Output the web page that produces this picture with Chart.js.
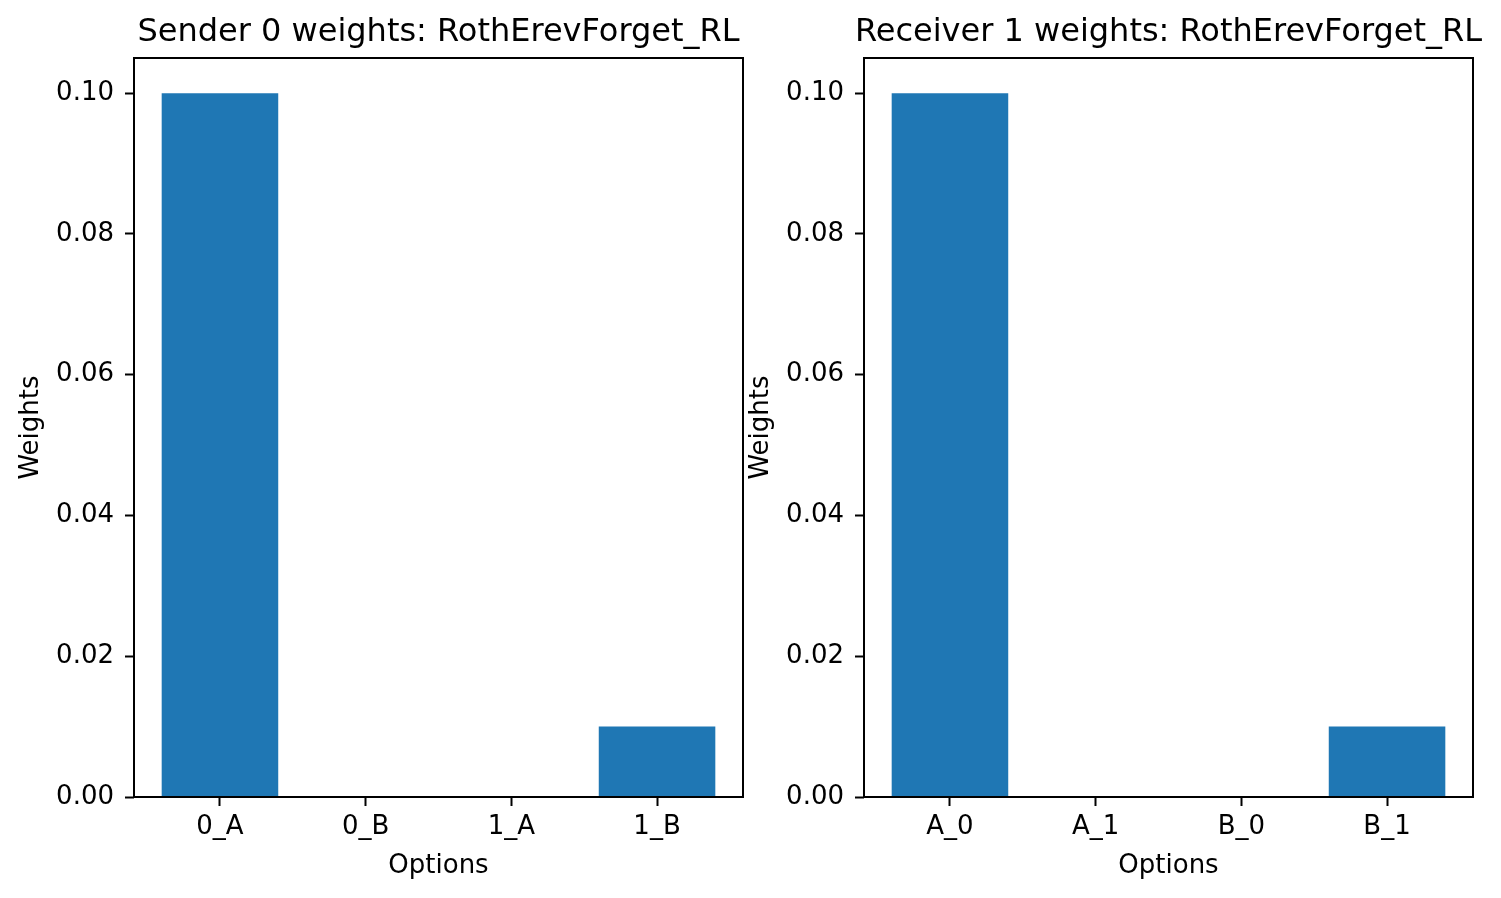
<!DOCTYPE html>
<html>
<head>
<meta charset="utf-8">
<script src="https://cdn.jsdelivr.net/npm/chart.js@4.4.1/dist/chart.umd.min.js"></script>
<style>
  html, body { margin: 0; padding: 0; background: #fff; }
  body { width: 1501px; height: 898px; position: relative; overflow: hidden; }
  canvas { position: absolute; top: 0; }
  #senderChart { left: 0; }
  #receiverChart { left: 730px; }
</style>
</head>
<body>
<canvas id="senderChart" width="771" height="898"></canvas>
<canvas id="receiverChart" width="771" height="898"></canvas>
<script>
const senderLabels = ["0_A", "0_B", "1_A", "1_B"];
const senderWeights = [0.1, 0, 0, 0.01];
const receiverLabels = ["A_0", "A_1", "B_0", "B_1"];
const receiverWeights = [0.1, 0, 0, 0.01];
const yTickValues = [0, 0.02, 0.04, 0.06, 0.08, 0.10];

const FONT = "'DejaVu Sans', sans-serif";
const BAR_COLOR = "#1f77b4";
const LABEL_SIZE = 26;

// matplotlib style box around the axes, plus a title centred over the plot area
const framePlugin = {
  id: "frame",
  afterDatasetsDraw(chart, args, opts) {
    const { ctx, chartArea: a } = chart;
    ctx.save();
    ctx.strokeStyle = "#000";
    ctx.lineWidth = 2;
    ctx.strokeRect(a.left, a.top, a.right - a.left, a.bottom - a.top);
    ctx.fillStyle = "#000";
    ctx.font = `32px ${FONT}`;
    ctx.textAlign = "center";
    ctx.textBaseline = "alphabetic";
    ctx.fillText(opts.text, (a.left + a.right) / 2, a.top - 17);
    ctx.restore();
  }
};

function makeChart(canvasId, title, labels, values) {
  const n = labels.length;
  return new Chart(document.getElementById(canvasId).getContext("2d"), {
    type: "bar",
    data: {
      datasets: [{
        data: values.map((v, i) => ({ x: i, y: v })),
        backgroundColor: BAR_COLOR,
        borderWidth: 0,
        barPercentage: 0.8,
        categoryPercentage: 1.0
      }]
    },
    options: {
      responsive: false,
      animation: false,
      devicePixelRatio: 1,
      layout: { padding: { left: 0, right: 28, top: 58, bottom: 0 } },
      plugins: {
        legend: { display: false },
        tooltip: { enabled: false },
        title: { display: false },
        frame: { text: title }
      },
      scales: {
        x: {
          type: "linear",
          offset: false,
          min: -0.59,
          max: n - 1 + 0.59,
          afterBuildTicks(scale) { scale.ticks = labels.map((_, i) => ({ value: i })); },
          afterFit(scale) { scale.height = 101; },
          ticks: {
            color: "#000",
            font: { family: FONT, size: LABEL_SIZE },
            padding: 6,
            maxRotation: 0,
            autoSkip: false,
            callback: (v) => labels[v]
          },
          grid: { offset: false, drawOnChartArea: false, drawTicks: true, tickLength: 9, tickWidth: 2, tickColor: "#000" },
          border: { display: false },
          title: {
            display: true,
            text: "Options",
            color: "#000",
            font: { family: FONT, size: LABEL_SIZE },
            padding: { top: 0, bottom: 16 }
          }
        },
        y: {
          min: 0,
          max: 0.105,
          afterBuildTicks(scale) { scale.ticks = yTickValues.map(v => ({ value: v })); },
          afterFit(scale) { scale.width = 134; },
          ticks: {
            color: "#000",
            font: { family: FONT, size: LABEL_SIZE },
            padding: 11,
            callback: (v) => v.toFixed(2)
          },
          grid: { drawOnChartArea: false, drawTicks: true, tickLength: 9, tickWidth: 2, tickColor: "#000" },
          border: { display: false },
          title: {
            display: true,
            text: "Weights",
            color: "#000",
            font: { family: FONT, size: LABEL_SIZE },
            padding: { top: 16, bottom: 0 }
          }
        }
      }
    },
    plugins: [framePlugin]
  });
}

makeChart("senderChart", "Sender 0 weights: RothErevForget_RL", senderLabels, senderWeights);
makeChart("receiverChart", "Receiver 1 weights: RothErevForget_RL", receiverLabels, receiverWeights);
</script>
</body>
</html>
